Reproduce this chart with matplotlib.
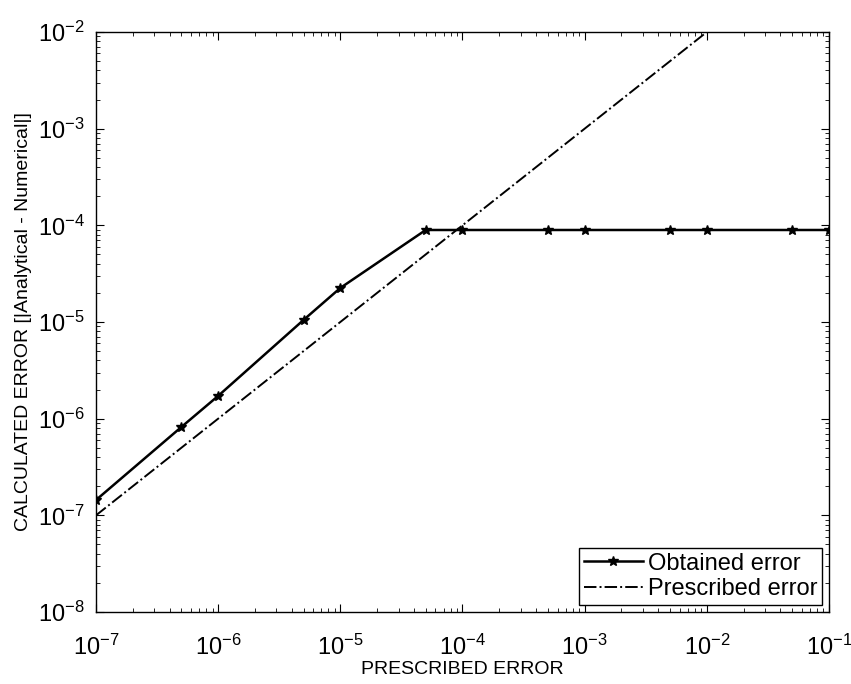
import numpy as np
import matplotlib
matplotlib.use('Agg')
import matplotlib.pyplot as plt
from matplotlib.ticker import LogLocator, NullFormatter, FuncFormatter

# prescribed error (x) and obtained error |analytical - numerical|
prescribed = [1e-7, 5e-7, 1e-6, 5e-6, 1e-5, 5e-5, 1e-4, 5e-4, 1e-3, 5e-3, 1e-2, 5e-2, 1e-1]
obtained = [1.44e-7, 8.2e-7, 1.72e-6, 1.05e-5, 2.25e-5, 8.95e-5, 8.95e-5,
            8.95e-5, 8.95e-5, 8.95e-5, 8.95e-5, 8.95e-5, 8.95e-5]

# reference line y = x
ref_x = [1e-7, 1e-2]
ref_y = [1e-7, 1e-2]

plt.rcParams['font.family'] = ['Liberation Sans', 'DejaVu Sans']
plt.rcParams['mathtext.fontset'] = 'custom'
plt.rcParams['mathtext.rm'] = 'Liberation Sans'
plt.rcParams['mathtext.it'] = 'Liberation Sans'

def fmt(v, pos):
    e = int(round(np.log10(v)))
    return r'$\mathregular{10^{%d}}$' % e

fig = plt.figure(figsize=(8.51, 6.84), dpi=100)
ax = fig.add_axes([96/851, 1-612/684, (829-96)/851, (612-32)/684])

ax.plot(prescribed, obtained, 'k-', marker='*', markersize=7, lw=1.8,
        label='Obtained error')
ax.plot(ref_x, ref_y, 'k-.', lw=1.4, label='Prescribed error')

ax.set_xscale('log')
ax.set_yscale('log')
ax.set_xlim(1e-7, 1e-1)
ax.set_ylim(1e-8, 1e-2)

ax.xaxis.set_major_locator(LogLocator(base=10, numticks=10))
ax.yaxis.set_major_locator(LogLocator(base=10, numticks=10))
ax.xaxis.set_minor_locator(LogLocator(base=10, subs=np.arange(2, 10), numticks=20))
ax.yaxis.set_minor_locator(LogLocator(base=10, subs=np.arange(2, 10), numticks=20))
ax.xaxis.set_major_formatter(FuncFormatter(fmt))
ax.yaxis.set_major_formatter(FuncFormatter(fmt))
ax.xaxis.set_minor_formatter(NullFormatter())
ax.yaxis.set_minor_formatter(NullFormatter())

ax.tick_params(which='both', direction='in', top=True, right=True, labelsize=17)
ax.tick_params(axis='x', which='major', pad=16)
ax.tick_params(axis='y', which='major', pad=8)
ax.tick_params(which='major', length=6)
ax.tick_params(which='minor', length=3)
for s in ax.spines.values():
    s.set_linewidth(1.0)

ax.set_xlabel('PRESCRIBED ERROR', fontsize=14, labelpad=1)
ax.set_ylabel('CALCULATED ERROR [|Analytical - Numerical|]', fontsize=14, labelpad=4)

leg = ax.legend(loc='lower right', fontsize=17, fancybox=False, edgecolor='black',
                framealpha=1, handlelength=2.5, borderaxespad=0.3,
                borderpad=0.2, labelspacing=0.15, handletextpad=0.2)
leg.get_frame().set_linewidth(1.0)

fig.savefig('out.png', dpi=100)
